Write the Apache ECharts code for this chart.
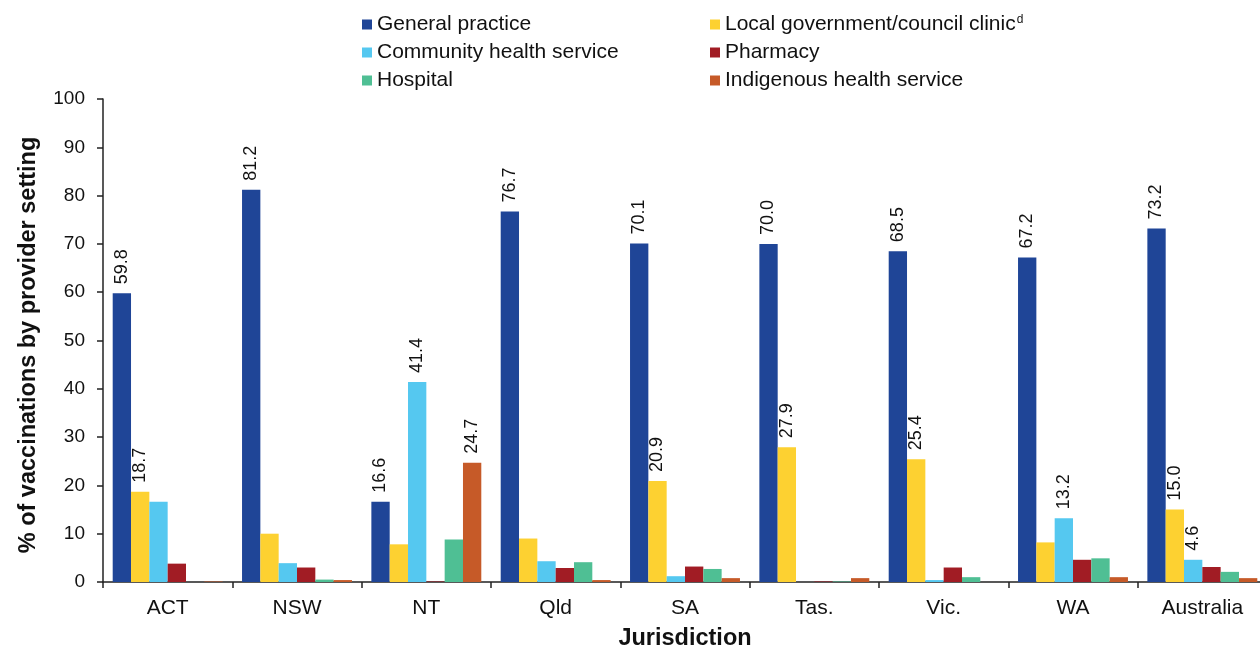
<!DOCTYPE html>
<html>
<head>
<meta charset="utf-8">
<script src="https://cdn.jsdelivr.net/npm/echarts@6/dist/echarts.min.js"></script>
<style>html,body{margin:0;padding:0;background:#fff}#c{width:1260px;height:648px}</style>
</head>
<body>
<div id="c"></div>
<script>
const categories = ['ACT', 'NSW', 'NT', 'Qld', 'SA', 'Tas.', 'Vic.', 'WA', 'Australia'];
const seriesNames = ['General practice', 'Local government/council clinic', 'Community health service', 'Pharmacy', 'Hospital', 'Indigenous health service'];
const generalPractice = [59.8, 81.2, 16.6, 76.7, 70.1, 70.0, 68.5, 67.2, 73.2];
const localGovernment = [18.7, 10.0, 7.8, 9.0, 20.9, 27.9, 25.4, 8.2, 15.0];
const communityHealth = [16.6, 3.9, 41.4, 4.3, 1.2, 0.0, 0.4, 13.2, 4.6];
const pharmacy = [3.8, 3.0, 0.1, 2.9, 3.2, 0.1, 3.0, 4.6, 3.1];
const hospital = [0.0, 0.5, 8.8, 4.1, 2.7, 0.1, 1.0, 4.9, 2.1];
const indigenousHealth = [0.1, 0.4, 24.7, 0.4, 0.8, 0.8, 0.0, 1.0, 0.8];
// indexes of bars that carry a value label, per series
const labelledGP = [0, 1, 2, 3, 4, 5, 6, 7, 8];
const labelledLocal = [0, 4, 5, 6, 8];
const labelledCommunity = [2, 7, 8];
const labelledPharmacy = [];
const labelledHospital = [];
const labelledIndigenous = [2];
const yTicks = [0, 10, 20, 30, 40, 50, 60, 70, 80, 90, 100];

const colors = ['#1F4597', '#FDD131', '#55C8F0', '#A11C24', '#4FBF94', '#C65A28'];
const values = [generalPractice, localGovernment, communityHealth, pharmacy, hospital, indigenousHealth];
const labelled = [labelledGP, labelledLocal, labelledCommunity, labelledPharmacy, labelledHospital, labelledIndigenous];
const FONT = '"Liberation Sans", Arial, sans-serif';

const series = seriesNames.map((name, s) => ({
  name: name,
  type: 'bar',
  barGap: '0%',
  barCategoryGap: '15%',
  itemStyle: { color: colors[s] },
  data: values[s].map((v, i) => ({
    value: v,
    label: {
      show: labelled[s].indexOf(i) >= 0,
      position: 'top',
      rotate: 90,
      align: 'left',
      verticalAlign: 'middle',
      distance: 9,
      fontFamily: FONT,
      fontSize: 18,
      color: '#111',
      formatter: p => Number(p.value).toFixed(1)
    }
  }))
}));

const legendText = {
  fontFamily: FONT, fontSize: 21, lineHeight: 21, color: '#111',
  rich: { sup: { fontFamily: FONT, fontSize: 12, color: '#111', verticalAlign: 'top', padding: [0, 0, 9, 1] } }
};
const legendFmt = n => n === 'Local government/council clinic' ? n + '{sup|d}' : n;

const chart = echarts.init(document.getElementById('c'));
chart.setOption({
  animation: false,
  backgroundColor: '#fff',
  legend: [
    {
      data: [seriesNames[0], seriesNames[2], seriesNames[4]],
      orient: 'vertical', left: 357, top: 9,
      itemWidth: 10, itemHeight: 10, itemGap: 7, icon: 'rect',
      textStyle: legendText, formatter: legendFmt, selectedMode: false
    },
    {
      data: [seriesNames[1], seriesNames[3], seriesNames[5]],
      orient: 'vertical', left: 705, top: 9,
      itemWidth: 10, itemHeight: 10, itemGap: 7, icon: 'rect',
      textStyle: legendText, formatter: legendFmt, selectedMode: false
    }
  ],
  grid: { left: 103, width: 1164, top: 99, height: 483, containLabel: false, outerBoundsMode: 'none' },
  xAxis: {
    type: 'category',
    data: categories,
    name: 'Jurisdiction',
    nameLocation: 'middle',
    nameGap: 45,
    nameTextStyle: { fontFamily: FONT, fontSize: 23.5, fontWeight: 'bold', color: '#111' },
    axisLine: { lineStyle: { color: '#222', width: 1.5 } },
    axisTick: { show: true, length: 6, lineStyle: { color: '#222', width: 1.5 } },
    axisLabel: { fontFamily: FONT, fontSize: 21, color: '#111', margin: 16 }
  },
  yAxis: {
    type: 'value',
    min: 0, max: 100, interval: 10,
    name: '% of vaccinations by provider setting',
    nameLocation: 'middle',
    nameGap: 62,
    nameTextStyle: { fontFamily: FONT, fontSize: 23.5, fontWeight: 'bold', color: '#111', padding: [0, 9, 0, 0] },
    axisLine: { show: true, lineStyle: { color: '#222', width: 1.5 } },
    axisTick: { show: true, length: 6, lineStyle: { color: '#222', width: 1.5 } },
    splitLine: { show: false },
    axisLabel: {
      fontFamily: FONT, fontSize: 19, color: '#111', margin: 18,
      formatter: v => yTicks.indexOf(v) >= 0 ? String(v) : ''
    }
  },
  series: series
});
</script>
</body>
</html>
